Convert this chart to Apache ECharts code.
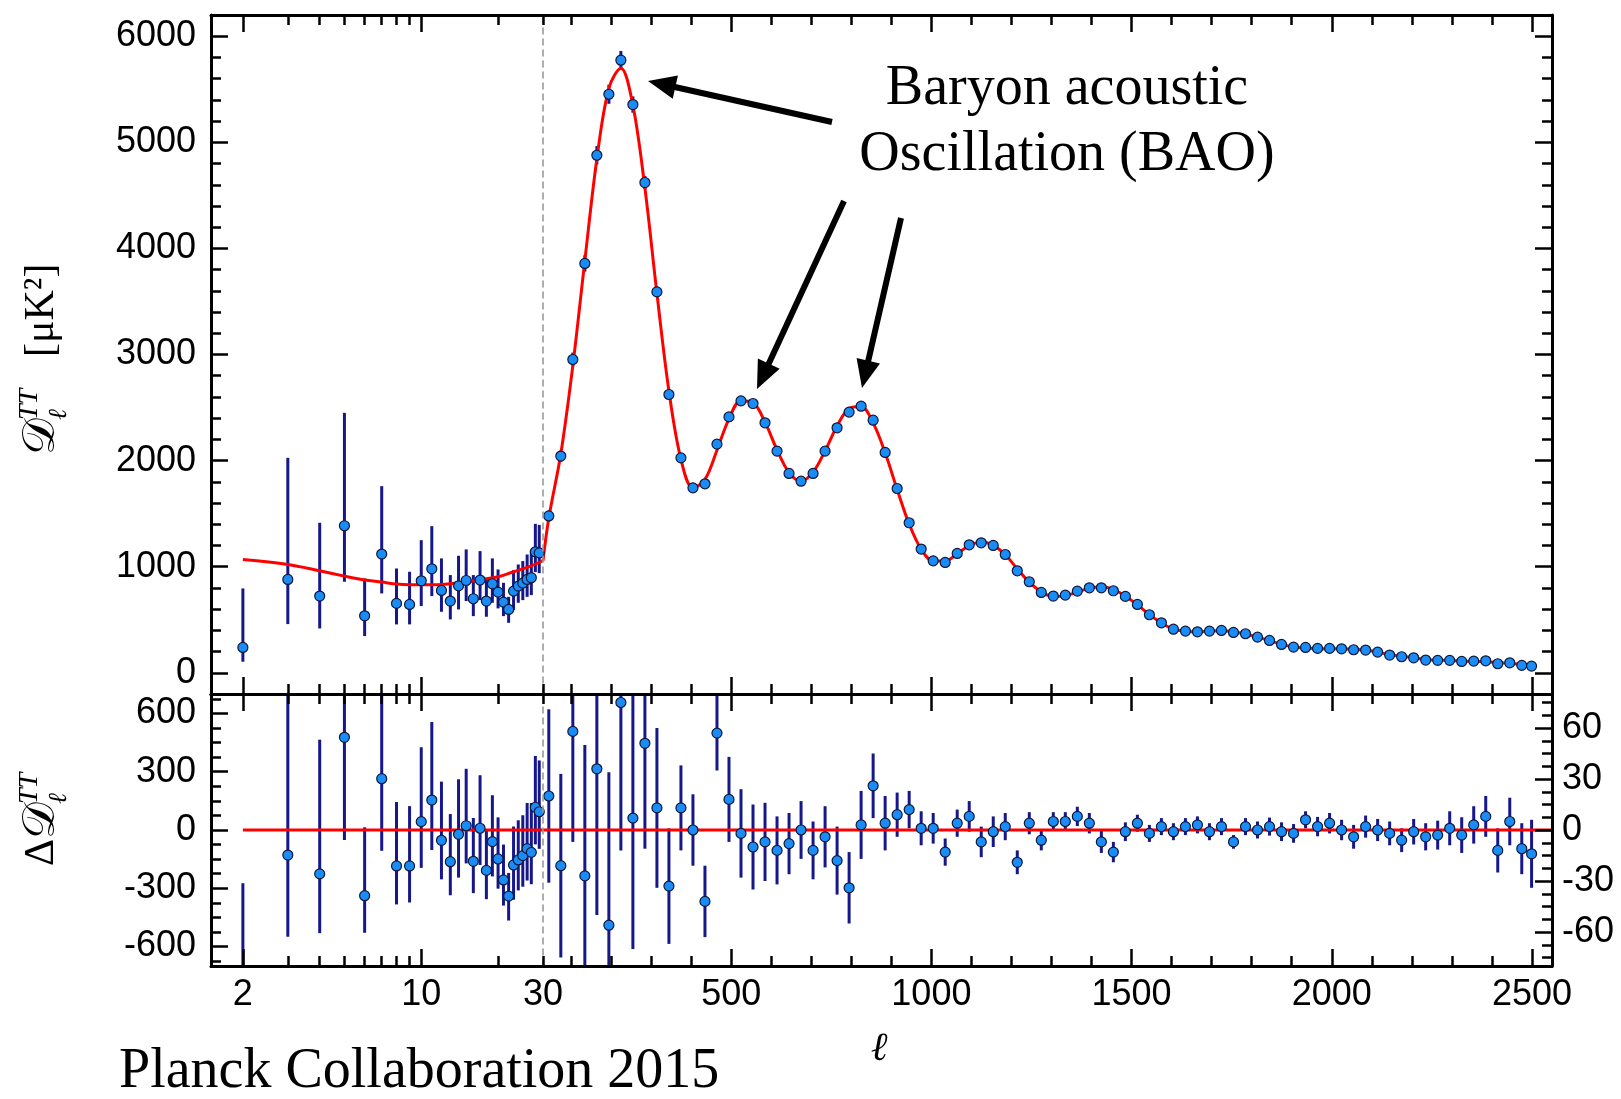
<!DOCTYPE html>
<html><head><meta charset="utf-8">
<script src="https://cdn.jsdelivr.net/npm/echarts@6/dist/echarts.min.js"></script>
<style>html,body{margin:0;padding:0;background:#fff;}#chart{width:1621px;height:1099px;}</style>
</head><body><div id="chart"></div>
<script>
// ================= DATA =================
// Low-ell (2..29), log part of the axis
const lowEll = [2,3,4,5,6,7,8,9,10,11,12,13,14,15,16,17,18,19,20,21,22,23,24,25,26,27,28,29];
const lowD = [239,880,723,1386,537,1119,654,644,867,980,776,676,820,870,698,874,676,839,760,666,597,770,817,845,880,896,1140,1130];
const lowErrMinus = [135,421,305,528,191,371,198,188,238,257,201,173,223,194,164,189,148,179,153,132,126,179,157,160,164,164,191,191];
const lowErrPlus = [556,1146,691,1064,352,640,329,308,383,402,302,245,283,293,223,273,213,239,214,182,119,198,204,208,235,254,264,264];
const lowRes = [-830,-129,-226,477,-338,264,-185,-185,43,154,-53,-163,-22,22,-161,9,-208,-60,-149,-257,-340,-180,-154,-132,-96,-115,117,94];
// best-fit model curve (low ell)
const lowModelEll = [2,3,4,5,6,7,8,9,10,12,15,18,20,23,26,30];
const lowModel = [1068,1021,961,911,874,855,836,830,830,833,858,886,905,952,993,1056];

// High-ell binned points (linear part of the axis)
const highEll = [44.5,74.5,104.5,134.5,164.5,194.5,224.5,254.5,284.5,314.5,
  344.5,374.5,404.5,434.5,464.5,494.5,524.5,554.5,584.5,614.5,
  644.5,674.5,704.5,734.5,764.5,794.5,824.5,854.5,884.5,914.5,
  944.5,974.5,1004.5,1034.5,1064.5,1094.5,1124.5,1154.5,1184.5,1214.5,
  1244.5,1274.5,1304.5,1334.5,1364.5,1394.5,1424.5,1454.5,1484.5,1514.5,
  1544.5,1574.5,1604.5,1634.5,1664.5,1694.5,1724.5,1754.5,1784.5,1814.5,
  1844.5,1874.5,1904.5,1934.5,1964.5,1994.5,2024.5,2054.5,2084.5,2114.5,
  2144.5,2174.5,2204.5,2234.5,2264.5,2294.5,2324.5,2354.5,2384.5,2414.5,
  2444.5,2474.5,2499];
const highD = [1478,2043,2953,3858,4878,5453,5774,5356,4621,3590,
  2623,2026,1743,1781,2155,2412,2563,2538,2356,2089,
  1879,1806,1879,2089,2309,2457,2513,2381,2077,1737,
  1414,1166,1055,1040,1125,1206,1225,1200,1115,961,
  858,757,723,732,770,801,801,773,720,644,
  547,471,411,393,386,393,399,380,368,336,
  305,267,242,239,230,230,226,217,214,195,
  167,151,141,120,117,117,107,110,113,85,
  94,70,63];
const highErr = [51,54,65,77,86,90,87,77,62,47,
  34,25,21,21,22,25,26,25,23,20,
  18,17,17,18,20,21,20,19,16,13,
  11,10,9,8,8,9,9,9,8,7,
  6.5,6,5.5,5.5,5.7,6,6.5,6,5.5,5,
  5,5,5,5,5,5,5,4,5,5,
  5.3,5.5,5.5,5,5.7,6,6,7,6.5,6.5,
  7,7,7.5,8,8.5,10,10.5,11,12,13,
  14,15,20];
const highRes = [20,-21,58,-27,36,-56,75,7,51,13,
  -33,13,0,-42,57,18,-2,-10,-7,-12,
  -8,0,-12,-4,-18,-34,3,26,4,9,
  12,1,1,-13,4,8,-7,-1,2,-19,
  4,-6,5,5,8,4,-7,-13,-1,4,
  -2,2,-1,2,3,-1,2,-7,2,0,
  2,-1,-2,6,2,4,0,-4,2,0,
  -2,-6,-1,-4,-3,1,-3,3,8,-12,
  5,-11,-14];
const highModel = [1458,2064,2895,3885,4842,5509,5699,5350,4570,3577,
  2656,2013,1743,1823,2098,2394,2565,2548,2362,2101,
  1887,1806,1891,2092,2327,2491,2510,2355,2073,1728,
  1402,1165,1054,1053,1121,1199,1232,1201,1113,980,
  854,763,718,727,762,797,808,786,721,640,
  549,469,412,391,384,394,397,387,366,336,
  303,268,244,233,228,226,226,221,212,195,
  169,156,142,124,120,116,110,107,105,97,
  89,81,77];
// residual zero reference line
const zeroLowEll = [2, 30];
const zeroHighEll = [30, 2550];

// tick values / labels
const logTickLabels = [2, 10, 30];
const logMajorTicks = [2, 10];
const logMinorTicks = [2,3,4,5,6,7,8,9,10,20,30];
const linTickLabels = [500, 1000, 1500, 2000, 2500];
const topYLabels = [0, 1000, 2000, 3000, 4000, 5000, 6000];
const resLeftLabels = [-600, -300, 0, 300, 600];
const resRightLabels = [-60, -30, 0, 30, 60];
function range(a, b, s) { const o = []; for (let v = a; v <= b + 1e-9; v += s) o.push(Math.round(v * 100) / 100); return o; }
const linMinorTicks = range(100, 2500, 100);
const topYMinorTicks = range(-200, 6200, 200);
const resLeftMinorTicks = range(-675, 675, 75);
const resRightMinorTicks = range(-75, 75, 7.5);

// ================= STYLE =================
const LABEL_FONT = '"Liberation Sans", Arial, Helvetica, sans-serif';
const SERIF = '"Liberation Serif", "DejaVu Serif", "Times New Roman", serif';
const PT_FILL = '#1a8cf5', PT_EDGE = '#10183a', ERR = '#17178c', RED = '#ff0000';

function axis(o) {
  const a = {
    type: o.type, gridIndex: o.grid, min: o.min, max: o.max, position: o.pos,
    axisLine: { show: !!o.line, onZero: false, lineStyle: { color: o.lineColor || '#000', width: o.lineWidth || 3, type: o.lineType || 'solid' } },
    axisTick: o.ticks ? { show: true, inside: true, length: o.tickLen, customValues: o.ticks, lineStyle: { color: '#000', width: 2.5 } } : { show: false },
    axisLabel: o.labels ? { show: true, customValues: o.labels, formatter: v => String(v), margin: o.margin, color: '#000', fontSize: 36, fontFamily: LABEL_FONT } : { show: false },
    splitLine: { show: false }, minorTick: { show: false }, axisPointer: { show: false }, silent: true, z: 10
  };
  if (o.type === 'log') a.logBase = 10;
  return a;
}

const logX = { type: 'log', min: 1.5, max: 30 };
const linX = { type: 'value', min: 30, max: 2550 };
const xAxes = [];
[[0, logX, logMinorTicks, logMajorTicks, null], [1, linX, linMinorTicks, linTickLabels, null],
 [2, logX, logMinorTicks, logMajorTicks, logTickLabels], [3, linX, linMinorTicks, linTickLabels, linTickLabels]]
.forEach(([g, sc, minor, major, labels]) => {
  xAxes.push(axis({ ...sc, grid: g, pos: 'bottom', line: true, ticks: minor, tickLen: 10, labels, margin: 11 }));
  xAxes.push(axis({ ...sc, grid: g, pos: 'bottom', ticks: major, tickLen: 17 }));
  xAxes.push(axis({ ...sc, grid: g, pos: 'top', line: true, ticks: minor, tickLen: 10 }));
  xAxes.push(axis({ ...sc, grid: g, pos: 'top', ticks: major, tickLen: 17 }));
});

const topY = { type: 'value', min: -200, max: 6200 };
const resL = { type: 'value', min: -700, max: 700 };
const resR = { type: 'value', min: -80, max: 80 };
const dashed = { line: true, lineColor: '#9a9a9a', lineWidth: 1.6, lineType: [6, 5] };
const yAxes = [
  axis({ ...topY, grid: 0, pos: 'left', line: true, ticks: topYMinorTicks, tickLen: 10, labels: topYLabels, margin: 15 }), //0
  axis({ ...topY, grid: 0, pos: 'left', ticks: topYLabels, tickLen: 17 }),                                               //1
  axis({ ...topY, grid: 1, pos: 'left', ...dashed }),                                                                    //2
  axis({ ...topY, grid: 1, pos: 'right', line: true, ticks: topYMinorTicks, tickLen: 10 }),                              //3
  axis({ ...topY, grid: 1, pos: 'right', ticks: topYLabels, tickLen: 17 }),                                              //4
  axis({ ...resL, grid: 2, pos: 'left', line: true, ticks: resLeftMinorTicks, tickLen: 10, labels: resLeftLabels, margin: 15 }), //5
  axis({ ...resL, grid: 2, pos: 'left', ticks: resLeftLabels, tickLen: 17 }),                                            //6
  axis({ ...resR, grid: 3, pos: 'left', ...dashed }),                                                                    //7
  axis({ ...resR, grid: 3, pos: 'right', line: true, ticks: resRightMinorTicks, tickLen: 10, labels: resRightLabels, margin: 10 }), //8
  axis({ ...resR, grid: 3, pos: 'right', ticks: resRightLabels, tickLen: 17 })                                           //9
];

const L = 211, MID = 543, R = 1552, T = 15, DIV = 694, B = 966;
const grids = [
  { left: L, top: T, width: MID - L, height: DIV - T },
  { left: MID, top: T, width: R - MID, height: DIV - T },
  { left: L, top: DIV, width: MID - L, height: B - DIV },
  { left: MID, top: DIV, width: R - MID, height: B - DIV }
].map(g => ({ ...g, containLabel: false, outerBoundsMode: 'none', show: false }));

function errRender(params, api) {
  const p1 = api.coord([api.value(0), api.value(1)]);
  const p2 = api.coord([api.value(0), api.value(2)]);
  return { type: 'line', shape: { x1: p1[0], y1: p1[1], x2: p2[0], y2: p2[1] }, style: { stroke: ERR, lineWidth: 3 } };
}
function errSeries(xi, yi, data) {
  return { type: 'custom', xAxisIndex: xi, yAxisIndex: yi, renderItem: errRender, data, clip: true, z: 2, silent: true, encode: { x: 0, y: [1, 2] } };
}
function ptSeries(xi, yi, data) {
  return { type: 'scatter', xAxisIndex: xi, yAxisIndex: yi, data, symbol: 'circle', symbolSize: 10, clip: true, z: 5, silent: true,
    itemStyle: { color: PT_FILL, borderColor: PT_EDGE, borderWidth: 1.2, opacity: 1 } };
}
function lineSeries(xi, yi, data, smooth) {
  return { type: 'line', xAxisIndex: xi, yAxisIndex: yi, data, smooth: smooth ? 0.35 : false, showSymbol: false, symbol: 'none', clip: true, z: 3, silent: true,
    lineStyle: { color: RED, width: 3 } };
}

const series = [
  // top panel, low ell
  errSeries(0, 0, lowEll.map((l, i) => [l, lowD[i] - lowErrMinus[i], lowD[i] + lowErrPlus[i]])),
  lineSeries(0, 0, lowModelEll.map((l, i) => [l, lowModel[i]]), true),
  ptSeries(0, 0, lowEll.map((l, i) => [l, lowD[i]])),
  // top panel, high ell
  errSeries(4, 2, highEll.map((l, i) => [l, highD[i] - highErr[i], highD[i] + highErr[i]])),
  lineSeries(4, 2, [[lowModelEll[lowModelEll.length - 1], lowModel[lowModel.length - 1]]].concat(highEll.map((l, i) => [l, highModel[i]])), true),
  ptSeries(4, 2, highEll.map((l, i) => [l, highD[i]])),
  // residuals, low ell
  errSeries(8, 5, lowEll.map((l, i) => [l, lowRes[i] - lowErrMinus[i], lowRes[i] + lowErrPlus[i]])),
  lineSeries(8, 5, zeroLowEll.map(l => [l, 0]), false),
  ptSeries(8, 5, lowEll.map((l, i) => [l, lowRes[i]])),
  // residuals, high ell
  errSeries(12, 8, highEll.map((l, i) => [l, highRes[i] - highErr[i], highRes[i] + highErr[i]])),
  lineSeries(12, 8, zeroHighEll.map(l => [l, 0]), false),
  ptSeries(12, 8, highEll.map((l, i) => [l, highRes[i]]))
];

// ================= ANNOTATIONS =================
function txt(text, x, y, font, align, valign) {
  return { type: 'text', x: x, y: y, silent: true, style: { text, font, fill: '#000', align: align || 'left', verticalAlign: valign || 'middle', textAlign: align || 'left', textVerticalAlign: valign || 'middle' } };
}
function arrow(tail, tip) {
  const dx = tip[0] - tail[0], dy = tip[1] - tail[1], len = Math.hypot(dx, dy);
  const ux = dx / len, uy = dy / len, hl = 28, hw = 12;
  const bx = tip[0] - ux * hl, by = tip[1] - uy * hl;
  return [
    { type: 'line', silent: true, shape: { x1: tail[0], y1: tail[1], x2: bx + ux * 4, y2: by + uy * 4 }, style: { stroke: '#000', lineWidth: 6 } },
    { type: 'polygon', silent: true, shape: { points: [tip, [bx - uy * hw, by + ux * hw], [bx + uy * hw, by - ux * hw]] }, style: { fill: '#000' } }
  ];
}
const graphics = [
  ...arrow([832, 122], [648, 81]),
  ...arrow([844, 201], [757, 389]),
  ...arrow([901, 218], [862, 388]),
  txt('Baryon acoustic', 1067, 89, '56px ' + SERIF, 'center'),
  txt('Oscillation (BAO)', 1067, 155, '56px ' + SERIF, 'center'),
  txt('Planck Collaboration 2015', 119, 1072, '56px ' + SERIF, 'left'),
  txt('ℓ', 879, 1049, 'italic 40px ' + SERIF, 'center'),
  { type: 'group', x: 43, y: 455, rotation: Math.PI / 2, children: [
    txt('𝒟', 0, -1, '46px "DejaVu Serif", "DejaVu Sans", ' + SERIF, 'left'),
    txt('TT', 35, -13, 'italic 28px ' + SERIF, 'left'),
    txt('ℓ', 35, 16, 'italic 26px ' + SERIF, 'left'),
    txt('[μK²]', 98, -1, '42px ' + SERIF, 'left')
  ] },
  { type: 'group', x: 43, y: 866, rotation: Math.PI / 2, children: [
    txt('Δ', 0, -1, '42px ' + SERIF, 'left'),
    txt('𝒟', 27, -1, '46px "DejaVu Serif", "DejaVu Sans", ' + SERIF, 'left'),
    txt('TT', 62, -13, 'italic 28px ' + SERIF, 'left'),
    txt('ℓ', 62, 16, 'italic 26px ' + SERIF, 'left')
  ] }
];

const chart = echarts.init(document.getElementById('chart'), null, { renderer: 'canvas', width: 1621, height: 1099 });
chart.setOption({
  animation: false,
  backgroundColor: '#fff',
  grid: grids,
  xAxis: xAxes,
  yAxis: yAxes,
  series: series,
  graphic: graphics
});
</script></body></html>
